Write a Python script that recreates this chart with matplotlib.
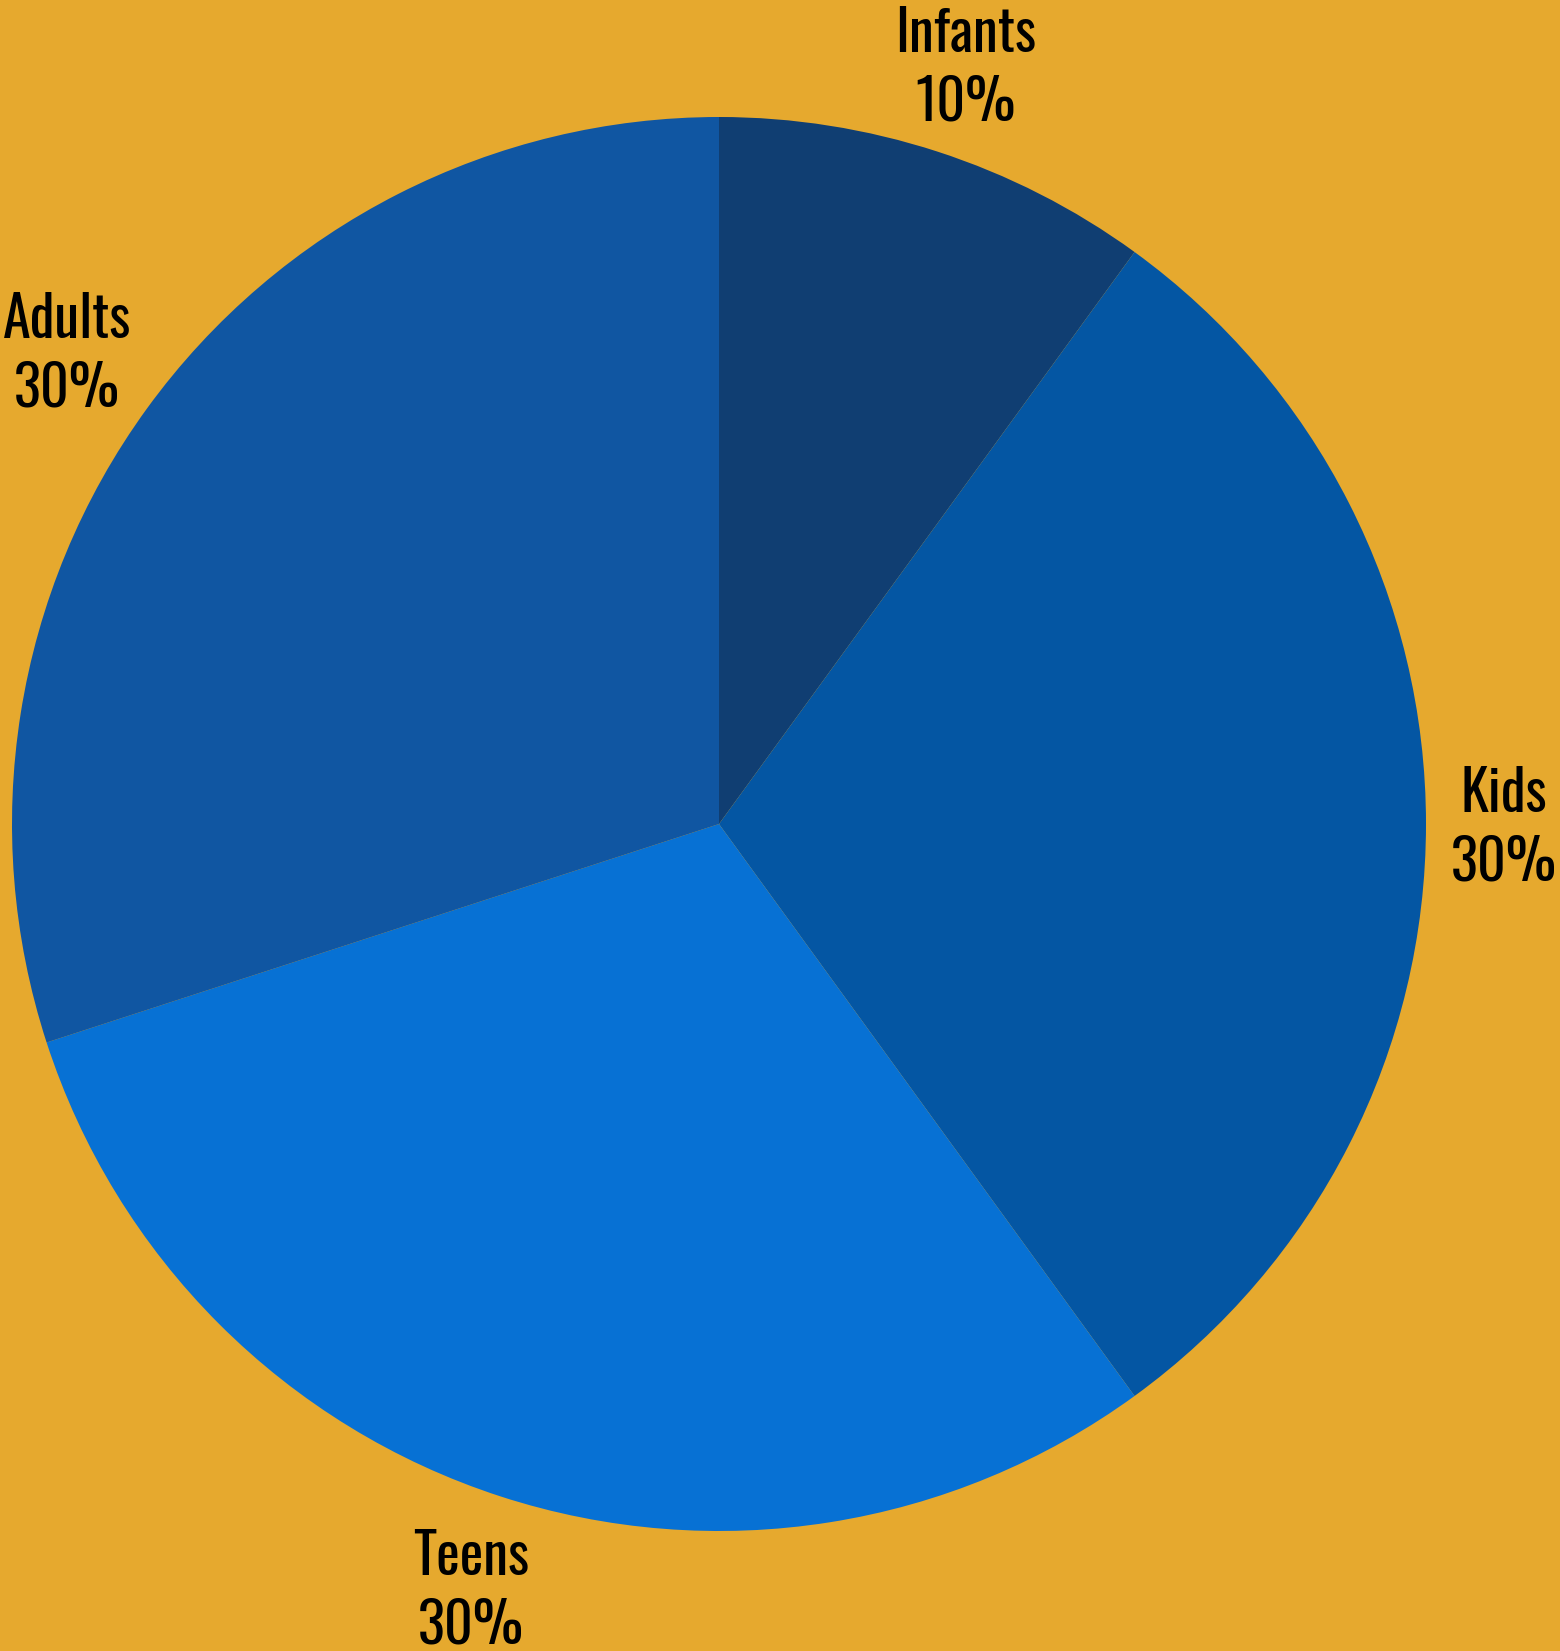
import matplotlib
matplotlib.use("Agg")
import matplotlib.pyplot as plt
import numpy as np

# data
groups = ["Infants", "Kids", "Teens", "Adults"]
shares = [10, 30, 30, 30]
colours = ["#103E72", "#0456A3", "#0771D4", "#1056A2"]

# label distance from centre, in pie radii
label_r = [1.13, 1.11, 1.135, 1.14]

bg = "#E6A92E"

W, H = 1560, 1651
cx, cy, R = 719, 824, 707

fig = plt.figure(figsize=(W / 100, H / 100), dpi=100, facecolor=bg)
ax = fig.add_axes([0, 0, 1, 1])
ax.set_facecolor(bg)

wedges, _ = ax.pie(shares, colors=colours, startangle=90, counterclock=False,
                   wedgeprops=dict(linewidth=0))

for w, name, val, rf in zip(wedges, groups, shares, label_r):
    mid = np.deg2rad((w.theta1 + w.theta2) / 2)
    ax.annotate("%s\n%d%%" % (name, val), (rf * np.cos(mid), rf * np.sin(mid)),
                xytext=(0, -3), textcoords="offset points",
                ha="center", va="center", fontsize=40.5, linespacing=1.26,
                family=["Oswald", "DejaVu Sans"], color="black")

ax.set_xlim(-cx / R, (W - cx) / R)
ax.set_ylim(-(H - cy) / R, cy / R)
ax.set_aspect("auto")
ax.set_axis_off()

fig.savefig("out.png", dpi=100, facecolor=bg)
